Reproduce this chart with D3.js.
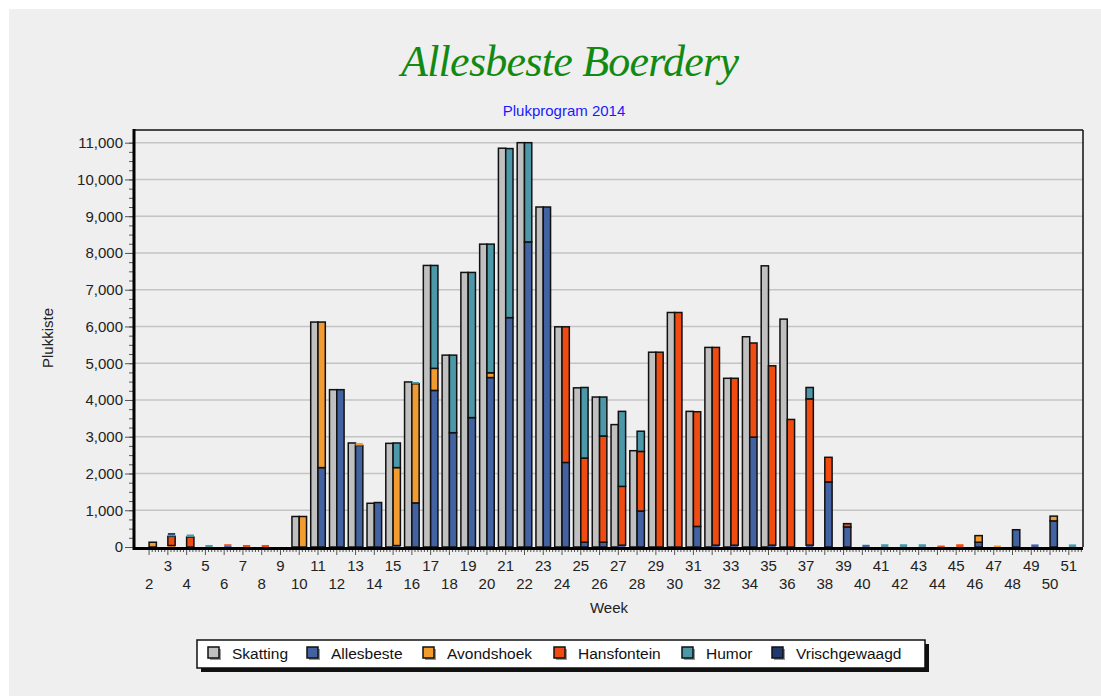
<!DOCTYPE html>
<html lang="en">
<head>
  <meta charset="UTF-8">
  <title>Allesbeste Boerdery</title>
  <script src="https://d3js.org/d3.v7.min.js"></script>
  <style>
    body { margin: 0; background: #fff; }
    svg { display: block; font-family: "Liberation Sans", Arial, sans-serif; }
    .tick text { font-size: 15px; fill: #222; }
  </style>
</head>
<body>
  <svg width="1101" height="696"></svg>

  <script>
    const weeks = [2,3,4,5,6,7,8,9,10,11,12,13,14,15,16,17,18,19,20,21,22,23,24,25,26,
                   27,28,29,30,31,32,33,34,35,36,37,38,39,40,41,42,43,44,45,46,47,48,49,50,51];

    const skatting      = [0,0,0,0,0,0,0,0,830,6120,4280,2830,1190,2820,4490,7660,5220,7470,8240,10850,11000,9250,5990,4330,4080,
                           3330,2620,5300,6380,3690,5430,4590,5720,7650,6200,0,0,0,0,0,0,0,0,0,0,0,0,0,0,0];
    const allesbeste    = [0,0,0,0,30,0,0,0,0,2160,4280,2760,1210,40,1200,4260,3110,3520,4610,6240,8300,9250,2300,130,130,
                           50,980,0,0,560,50,50,2990,50,0,50,1770,545,60,0,0,0,0,0,130,0,470,70,710,0];
    const avondshoek    = [130,40,0,0,0,0,0,0,830,3960,0,70,0,2120,3240,600,0,0,130,0,0,0,0,0,0,
                           0,0,0,0,0,0,0,0,0,0,0,0,0,0,0,0,0,0,0,180,40,0,0,130,0];
    const hansfontein   = [0,250,270,0,45,55,55,0,0,0,0,0,0,0,0,0,0,0,0,0,0,0,3690,2290,2890,
                           1600,1620,5300,6380,3120,5380,4540,2560,4880,3470,3980,670,90,0,0,0,0,40,75,0,0,0,0,0,0];
    const humor         = [0,40,70,55,0,0,0,0,0,0,0,0,0,670,50,2800,2110,3950,3500,4600,2700,0,0,1920,1060,
                           2040,550,0,0,0,0,0,0,0,0,310,0,0,0,75,75,75,0,0,0,0,0,0,0,70];
    const vrischgewaagd = [0,50,0,0,0,0,0,0,0,0,0,0,0,0,0,0,0,0,0,0,0,0,0,0,0,
                           0,0,0,0,0,0,0,0,0,0,0,0,0,0,0,0,0,0,0,0,0,0,0,0,0];

    const seriesNames = ["Allesbeste", "Avondshoek", "Hansfontein", "Humor", "Vrischgewaagd"];
    const seriesData = [allesbeste, avondshoek, hansfontein, humor, vrischgewaagd];
    const legendNames = ["Skatting"].concat(seriesNames);
    const colors = {
      Skatting: "#c0c0c0",
      Allesbeste: "#4262a2",
      Avondshoek: "#f29b30",
      Hansfontein: "#f04c12",
      Humor: "#4a98a8",
      Vrischgewaagd: "#203a70"
    };

    const svg = d3.select("svg");

    // panel
    svg.append("rect").attr("x", 9).attr("y", 9).attr("width", 1092).attr("height", 687).attr("fill", "#efefef");

    const plotLeft = 134, plotRight = 1083, plotTop = 130, plotBottom = 547;

    const x = d3.scaleBand()
        .domain(weeks)
        .range([139.7, 1078.2]);
    const y = d3.scaleLinear()
        .domain([0, 11345])
        .range([plotBottom, plotTop]);

    // titles
    svg.append("text")
        .attr("x", 570).attr("y", 76)
        .attr("text-anchor", "middle")
        .attr("font-family", "'Liberation Serif', 'DejaVu Serif', serif")
        .attr("font-style", "italic")
        .attr("font-size", 44)
        .attr("textLength", 338)
        .attr("fill", "#128a12")
        .text("Allesbeste Boerdery");

    svg.append("text")
        .attr("x", 564).attr("y", 116)
        .attr("text-anchor", "middle")
        .attr("font-size", 15)
        .attr("fill", "#1a1aff")
        .text("Plukprogram 2014");

    // gridlines
    svg.append("g")
        .selectAll("line")
        .data(d3.range(1000, 11001, 1000))
        .enter().append("line")
        .attr("x1", plotLeft).attr("x2", plotRight)
        .attr("y1", d => y(d)).attr("y2", d => y(d))
        .attr("stroke", "#c4c4c4")
        .attr("stroke-width", 1.5);

    // bars
    const bw = 7.3;
    const g = svg.append("g");

    g.selectAll("rect.skat")
        .data(weeks.map((w, i) => ({ w, v: skatting[i] })).filter(d => d.v > 0))
        .enter().append("rect")
        .attr("x", d => x(d.w) + x.bandwidth() / 2 - bw)
        .attr("y", d => y(d.v))
        .attr("width", bw)
        .attr("height", d => y(0) - y(d.v))
        .attr("fill", colors.Skatting)
        .attr("stroke", "#111")
        .attr("stroke-width", 1.5);

    const table = weeks.map((w, i) => {
      const row = { week: w };
      seriesNames.forEach((s, j) => row[s] = seriesData[j][i]);
      return row;
    });
    const stacked = d3.stack().keys(seriesNames)(table);

    stacked.forEach(layer => {
      g.append("g")
        .selectAll("rect")
        .data(layer.filter(d => d[1] - d[0] > 0))
        .enter().append("rect")
        .attr("x", d => x(d.data.week) + x.bandwidth() / 2)
        .attr("y", d => y(d[1]))
        .attr("width", bw)
        .attr("height", d => y(d[0]) - y(d[1]))
        .attr("fill", colors[layer.key])
        .attr("stroke", d => (y(d[0]) - y(d[1]) > 3 ? "#111" : "none"))
        .attr("stroke-width", 1.5);
    });

    // frame top/right
    svg.append("line").attr("x1", plotLeft).attr("x2", plotRight).attr("y1", plotTop).attr("y2", plotTop)
        .attr("stroke", "#111").attr("stroke-width", 1.5);
    svg.append("line").attr("x1", plotRight).attr("x2", plotRight).attr("y1", plotTop).attr("y2", plotBottom)
        .attr("stroke", "#111").attr("stroke-width", 1.5);

    // y axis
    const yAxis = svg.append("g")
        .attr("transform", `translate(${plotLeft},0)`)
        .call(d3.axisLeft(y).tickValues(d3.range(0, 11001, 1000)).tickFormat(d3.format(",")).tickSize(9).tickPadding(2));
    yAxis.select(".domain").remove();
    yAxis.selectAll(".tick line").attr("stroke", "#555");

    const yMinor = svg.append("g")
        .attr("transform", `translate(${plotLeft},0)`)
        .call(d3.axisLeft(y).tickValues(d3.range(0, 11001, 250)).tickFormat("").tickSize(5));
    yMinor.select(".domain").remove();
    yMinor.selectAll(".tick line").attr("stroke", "#555");

    // x axis
    const xAxis = svg.append("g")
        .attr("transform", `translate(0,${plotBottom + 1})`)
        .call(d3.axisBottom(x).tickSize(7).tickPadding(5));
    xAxis.select(".domain").remove();
    xAxis.selectAll(".tick line").attr("stroke", "#555");
    xAxis.selectAll(".tick text").attr("dy", d => d % 2 === 0 ? "1.96em" : "0.71em");

    const minorX = [];
    weeks.forEach(w => {
      for (let k = 1; k < 6; k++) minorX.push(x(w) + x.bandwidth() / 2 + k * x.step() / 6);
    });
    svg.append("g")
        .selectAll("line")
        .data(minorX.filter(v => v < plotRight))
        .enter().append("line")
        .attr("x1", d => d).attr("x2", d => d)
        .attr("y1", plotBottom + 1).attr("y2", plotBottom + 5)
        .attr("stroke", "#555");

    // axis lines
    svg.append("line").attr("x1", plotLeft).attr("x2", plotLeft).attr("y1", plotTop - 1).attr("y2", plotBottom + 3)
        .attr("stroke", "#000").attr("stroke-width", 3);
    svg.append("line").attr("x1", plotLeft - 1).attr("x2", plotRight).attr("y1", plotBottom + 1.5).attr("y2", plotBottom + 1.5)
        .attr("stroke", "#000").attr("stroke-width", 3);

    // axis titles
    svg.append("text")
        .attr("x", 609).attr("y", 613)
        .attr("text-anchor", "middle")
        .attr("font-size", 15)
        .attr("fill", "#222")
        .text("Week");
    svg.append("text")
        .attr("transform", "translate(53,338) rotate(-90)")
        .attr("text-anchor", "middle")
        .attr("font-size", 15)
        .attr("fill", "#222")
        .text("Plukkiste");

    // legend
    const lg = svg.append("g");
    lg.append("rect").attr("x", 201).attr("y", 644).attr("width", 728).attr("height", 28).attr("fill", "#111");
    lg.append("rect").attr("x", 197).attr("y", 640).attr("width", 728).attr("height", 28)
        .attr("fill", "#fff").attr("stroke", "#111").attr("stroke-width", 1.5);

    const legendX = [208, 307, 423, 554, 682, 772];
    legendNames.forEach((name, i) => {
      lg.append("rect").attr("x", legendX[i] + 2).attr("y", 649).attr("width", 11).attr("height", 11).attr("fill", "#999");
      lg.append("rect").attr("x", legendX[i]).attr("y", 647).attr("width", 11).attr("height", 11)
          .attr("fill", colors[name]).attr("stroke", "#111").attr("stroke-width", 1.5);
      lg.append("text").attr("x", legendX[i] + 24).attr("y", 659)
          .attr("font-size", 15.5).attr("fill", "#111").text(name);
    });
  </script>
</body>
</html>
